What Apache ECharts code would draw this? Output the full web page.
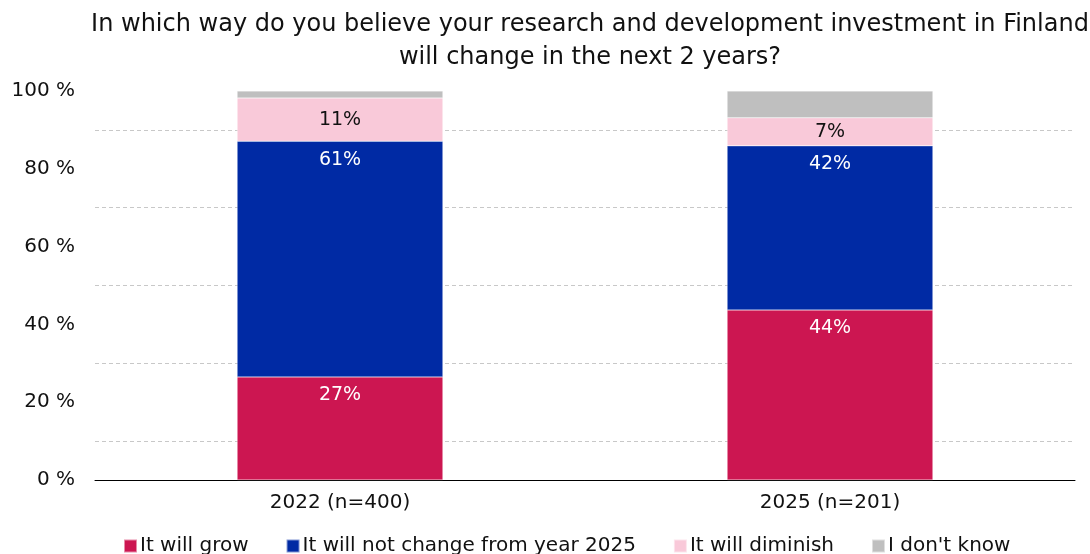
<html>
<head>
    <meta charset="utf-8">
    <script src="https://cdn.jsdelivr.net/npm/echarts@6/dist/echarts.min.js"></script>
    <style>
        html, body, #main {
            width: 100%;
            height: 100%;
            margin: 0;
            background: #fff;
        }
    </style>
</head>
<body>
<div id="main"></div>
<script>
    var categories = ['2022 (n=400)', '2025 (n=201)'];
    var grow = [26.5, 43.7];
    var noChange = [60.6, 42.2];
    var diminish = [11.1, 7.2];
    var dontKnow = [1.8, 6.9];
    var yTicks = [0, 20, 40, 60, 80, 100];

    var chart = echarts.init(document.getElementById('main'));
    var font = 'DejaVu Sans';

    function pct(p) {
        return Math.round(p.value) + '%';
    }

    function bar(name, data, color, labelColor, pos, showLabel) {
        return {
            name: name,
            type: 'bar',
            stack: 'total',
            barWidth: '42%',
            data: data,
            itemStyle: {color: color, borderColor: 'rgba(255,255,255,0.5)', borderWidth: 0.5},
            label: {
                show: showLabel,
                position: pos,
                distance: 9,
                formatter: pct,
                color: labelColor,
                fontFamily: font,
                fontSize: 19
            }
        };
    }

    var option = {
        textStyle: {fontFamily: font},
        title: {
            text: 'In which way do you believe your research and development investment in Finland\nwill change in the next 2 years?',
            left: 585,
            textAlign: 'center',
            top: 3,
            textStyle: {fontFamily: font, fontSize: 24, fontWeight: 'normal', color: '#111', lineHeight: 33}
        },
        legend: {
            bottom: -7,
            left: 118,
            itemWidth: 13,
            itemHeight: 13,
            itemGap: 37,
            icon: 'rect',
            textStyle: {fontFamily: font, fontSize: 20, color: '#111', padding: [0, 0, 0, -2]}
        },
        grid: {left: 95, right: 15, top: 91, bottom: 74},
        xAxis: {
            type: 'category',
            data: categories,
            axisLine: {lineStyle: {color: '#000', width: 1}},
            axisTick: {show: false},
            axisLabel: {fontFamily: font, fontSize: 20, color: '#111', margin: 13}
        },
        yAxis: {
            type: 'value',
            min: 0,
            max: 100,
            interval: 20,
            axisLabel: {
                fontFamily: font, fontSize: 20, color: '#111', margin: 20,
                formatter: function (v) { return yTicks.indexOf(v) >= 0 ? v + ' %' : ''; }
            },
            splitLine: {show: false},
            minorTick: {show: false, splitNumber: 2},
            minorSplitLine: {show: true, lineStyle: {color: '#c8c8c8', type: [4, 3], width: 1}}
        },
        series: [
            bar('It will grow', grow, '#CC1651', '#fff', 'insideTop', true),
            bar('It will not change from year 2025', noChange, '#002AA4', '#fff', 'insideTop', true),
            bar('It will diminish', diminish, '#F9C9D9', '#111', 'inside', true),
            bar("I don't know", dontKnow, '#BFBFBF', '#111', 'inside', false)
        ]
    };

    chart.setOption(option);
</script>
</body>
</html>
